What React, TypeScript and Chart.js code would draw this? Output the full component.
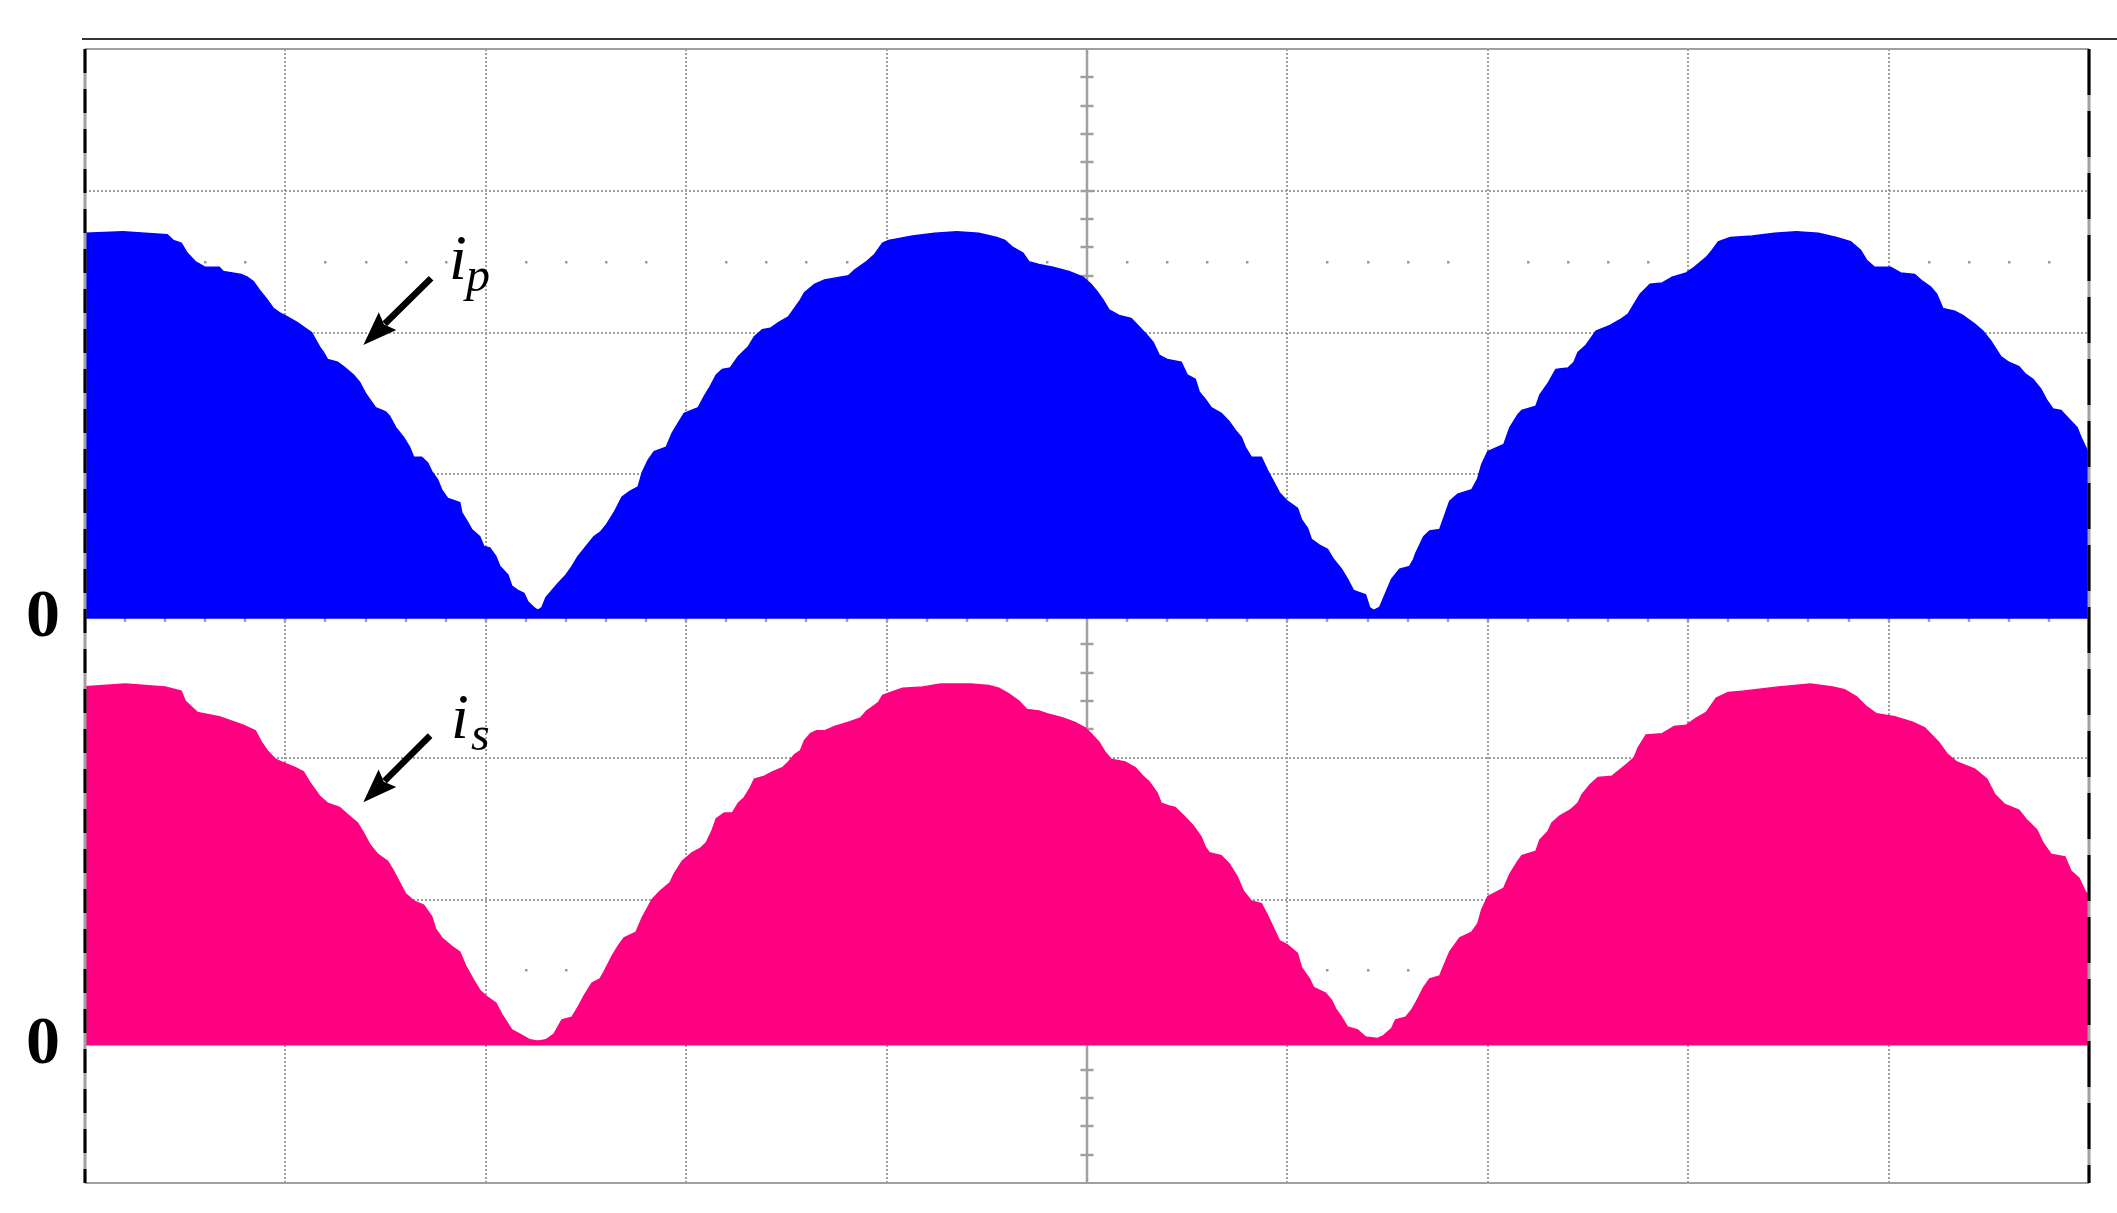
import React, { useEffect, useRef } from 'react';
import { Chart, registerables } from 'chart.js';

Chart.register(...registerables);

// ---- data (time and amplitude in oscilloscope divisions) ----
const ipTime = [
  0.00, 0.19, 0.30, 0.41, 0.44, 0.48, 0.51, 0.55, 0.60, 0.67, 0.69, 0.78, 0.81, 0.84, 0.87, 0.91, 0.94, 0.97,
  1.01, 1.06, 1.10, 1.13, 1.17, 1.19, 1.21, 1.26, 1.29, 1.34, 1.37, 1.40, 1.42, 1.45, 1.50, 1.52, 1.55, 1.59,
  1.62, 1.64, 1.68, 1.71, 1.73, 1.76, 1.78, 1.81, 1.87, 1.88, 1.91, 1.93, 1.97, 1.99, 2.02, 2.05, 2.07, 2.11,
  2.13, 2.16, 2.19, 2.21, 2.24, 2.26, 2.28, 2.30, 2.33, 2.36, 2.40, 2.43, 2.46, 2.50, 2.54, 2.57, 2.60, 2.64,
  2.68, 2.72, 2.76, 2.78, 2.81, 2.84, 2.90, 2.93, 2.96, 2.99, 3.06, 3.09, 3.12, 3.15, 3.18, 3.22, 3.26, 3.31,
  3.34, 3.38, 3.42, 3.46, 3.51, 3.54, 3.57, 3.59, 3.64, 3.69, 3.81, 3.84, 3.90, 3.94, 3.98, 4.01, 4.13, 4.24,
  4.35, 4.46, 4.55, 4.59, 4.63, 4.68, 4.71, 4.76, 4.83, 4.91, 4.98, 5.02, 5.05, 5.08, 5.11, 5.16, 5.22, 5.26,
  5.30, 5.33, 5.36, 5.40, 5.47, 5.50, 5.54, 5.56, 5.59, 5.62, 5.67, 5.71, 5.74, 5.77, 5.79, 5.82, 5.87, 5.90,
  5.93, 5.96, 6.00, 6.05, 6.07, 6.10, 6.12, 6.16, 6.20, 6.23, 6.27, 6.30, 6.33, 6.39, 6.41, 6.43, 6.46, 6.49,
  6.52, 6.56, 6.61, 6.63, 6.64, 6.68, 6.71, 6.76, 6.78, 6.81, 6.85, 6.92, 6.95, 6.97, 7.00, 7.08, 7.11, 7.15,
  7.17, 7.24, 7.26, 7.30, 7.32, 7.34, 7.40, 7.43, 7.45, 7.49, 7.52, 7.54, 7.61, 7.66, 7.70, 7.73, 7.76, 7.81,
  7.87, 7.92, 7.99, 8.03, 8.09, 8.12, 8.15, 8.21, 8.32, 8.43, 8.54, 8.65, 8.74, 8.81, 8.86, 8.89, 8.93, 9.01,
  9.06, 9.13, 9.17, 9.21, 9.24, 9.27, 9.33, 9.37, 9.43, 9.47, 9.51, 9.56, 9.60, 9.65, 9.68, 9.72, 9.76, 9.79,
  9.82, 9.86, 9.90, 9.94, 9.96, 9.99, 10.00,
];
const ipValue = [
  2.72, 2.73, 2.72, 2.71, 2.67, 2.65, 2.58, 2.52, 2.48, 2.48, 2.45, 2.43, 2.41, 2.38, 2.32, 2.25, 2.19, 2.16,
  2.13, 2.09, 2.05, 2.02, 1.92, 1.88, 1.83, 1.81, 1.78, 1.72, 1.67, 1.59, 1.55, 1.49, 1.46, 1.43, 1.35, 1.28,
  1.21, 1.14, 1.14, 1.10, 1.04, 0.98, 0.91, 0.85, 0.82, 0.75, 0.68, 0.63, 0.58, 0.51, 0.50, 0.44, 0.37, 0.31,
  0.23, 0.20, 0.18, 0.12, 0.08, 0.06, 0.08, 0.15, 0.20, 0.25, 0.31, 0.37, 0.44, 0.51, 0.58, 0.61, 0.66, 0.75,
  0.86, 0.90, 0.93, 1.03, 1.12, 1.18, 1.21, 1.31, 1.38, 1.45, 1.49, 1.57, 1.64, 1.72, 1.76, 1.77, 1.85, 1.92,
  1.99, 2.04, 2.05, 2.09, 2.13, 2.19, 2.25, 2.30, 2.36, 2.39, 2.42, 2.46, 2.52, 2.57, 2.65, 2.67, 2.70, 2.72,
  2.73, 2.72, 2.69, 2.67, 2.62, 2.58, 2.52, 2.50, 2.48, 2.45, 2.41, 2.36, 2.31, 2.25, 2.18, 2.14, 2.12, 2.06,
  2.00, 1.95, 1.86, 1.83, 1.81, 1.72, 1.69, 1.60, 1.55, 1.49, 1.45, 1.39, 1.33, 1.28, 1.21, 1.14, 1.14, 1.05,
  0.97, 0.89, 0.83, 0.78, 0.70, 0.64, 0.56, 0.52, 0.49, 0.42, 0.35, 0.28, 0.20, 0.17, 0.08, 0.06, 0.08, 0.18,
  0.28, 0.35, 0.37, 0.42, 0.46, 0.58, 0.62, 0.63, 0.71, 0.83, 0.88, 0.91, 0.99, 1.09, 1.18, 1.23, 1.35, 1.44,
  1.47, 1.50, 1.58, 1.66, 1.71, 1.76, 1.77, 1.81, 1.88, 1.93, 1.99, 2.03, 2.07, 2.11, 2.15, 2.22, 2.29, 2.36,
  2.37, 2.41, 2.44, 2.48, 2.55, 2.60, 2.66, 2.69, 2.70, 2.72, 2.73, 2.72, 2.69, 2.66, 2.60, 2.53, 2.48, 2.48,
  2.44, 2.43, 2.38, 2.34, 2.29, 2.19, 2.17, 2.14, 2.08, 2.03, 1.96, 1.85, 1.81, 1.78, 1.73, 1.69, 1.62, 1.54,
  1.48, 1.47, 1.41, 1.35, 1.28, 1.19, 1.17,
];
const isTime = [
  0.00, 0.20, 0.40, 0.48, 0.50, 0.56, 0.67, 0.73, 0.79, 0.85, 0.88, 0.91, 0.95, 0.98, 1.05, 1.09, 1.12, 1.17,
  1.21, 1.27, 1.31, 1.36, 1.39, 1.42, 1.46, 1.51, 1.54, 1.57, 1.60, 1.64, 1.69, 1.73, 1.75, 1.78, 1.83, 1.87,
  1.90, 1.94, 1.97, 2.00, 2.05, 2.08, 2.13, 2.17, 2.22, 2.26, 2.30, 2.34, 2.38, 2.43, 2.46, 2.49, 2.53, 2.57,
  2.59, 2.63, 2.66, 2.69, 2.75, 2.78, 2.83, 2.87, 2.92, 2.94, 2.98, 3.03, 3.07, 3.10, 3.13, 3.15, 3.19, 3.23,
  3.26, 3.29, 3.32, 3.34, 3.39, 3.43, 3.48, 3.51, 3.54, 3.57, 3.59, 3.62, 3.65, 3.69, 3.74, 3.81, 3.87, 3.90,
  3.94, 3.96, 3.98, 4.02, 4.08, 4.18, 4.27, 4.35, 4.42, 4.51, 4.56, 4.61, 4.66, 4.70, 4.76, 4.80, 4.88, 4.94,
  4.99, 5.02, 5.06, 5.09, 5.12, 5.19, 5.24, 5.28, 5.31, 5.35, 5.37, 5.41, 5.44, 5.49, 5.53, 5.57, 5.59, 5.61,
  5.67, 5.71, 5.75, 5.78, 5.82, 5.87, 5.90, 5.93, 5.96, 6.00, 6.05, 6.07, 6.11, 6.13, 6.19, 6.22, 6.24, 6.27,
  6.30, 6.35, 6.39, 6.45, 6.48, 6.52, 6.54, 6.59, 6.62, 6.64, 6.68, 6.71, 6.76, 6.78, 6.81, 6.86, 6.92, 6.95,
  6.97, 7.00, 7.08, 7.11, 7.15, 7.17, 7.24, 7.26, 7.30, 7.32, 7.36, 7.41, 7.45, 7.47, 7.51, 7.55, 7.62, 7.69,
  7.73, 7.75, 7.79, 7.87, 7.93, 7.99, 8.04, 8.09, 8.14, 8.20, 8.27, 8.45, 8.61, 8.72, 8.78, 8.84, 8.89, 8.94,
  9.03, 9.12, 9.18, 9.25, 9.29, 9.34, 9.43, 9.49, 9.53, 9.58, 9.65, 9.69, 9.74, 9.77, 9.81, 9.88, 9.91, 9.95,
  9.98, 10.00,
];
const isValue = [
  2.53, 2.55, 2.53, 2.50, 2.43, 2.35, 2.32, 2.29, 2.26, 2.22, 2.14, 2.08, 2.02, 2.00, 1.96, 1.93, 1.86, 1.76,
  1.71, 1.68, 1.63, 1.57, 1.50, 1.42, 1.35, 1.30, 1.23, 1.15, 1.07, 1.02, 0.99, 0.91, 0.82, 0.76, 0.70, 0.66,
  0.56, 0.46, 0.39, 0.35, 0.30, 0.22, 0.11, 0.08, 0.04, 0.03, 0.04, 0.08, 0.18, 0.20, 0.27, 0.35, 0.44, 0.47,
  0.52, 0.63, 0.70, 0.76, 0.80, 0.90, 1.03, 1.09, 1.15, 1.21, 1.30, 1.36, 1.39, 1.43, 1.52, 1.60, 1.64, 1.64,
  1.71, 1.75, 1.82, 1.88, 1.90, 1.93, 1.96, 2.00, 2.05, 2.08, 2.15, 2.20, 2.22, 2.22, 2.25, 2.28, 2.31, 2.36,
  2.40, 2.42, 2.47, 2.49, 2.52, 2.53, 2.55, 2.55, 2.55, 2.54, 2.52, 2.48, 2.43, 2.37, 2.36, 2.34, 2.31, 2.28,
  2.24, 2.20, 2.14, 2.07, 2.02, 2.00, 1.96, 1.90, 1.86, 1.78, 1.71, 1.69, 1.68, 1.61, 1.55, 1.47, 1.40, 1.36,
  1.34, 1.28, 1.19, 1.09, 1.02, 1.00, 0.92, 0.83, 0.74, 0.71, 0.65, 0.55, 0.47, 0.41, 0.37, 0.32, 0.26, 0.20,
  0.13, 0.11, 0.06, 0.05, 0.07, 0.12, 0.18, 0.20, 0.25, 0.30, 0.41, 0.47, 0.49, 0.56, 0.66, 0.76, 0.80, 0.86,
  0.96, 1.05, 1.11, 1.21, 1.30, 1.34, 1.37, 1.45, 1.51, 1.57, 1.62, 1.66, 1.71, 1.77, 1.84, 1.89, 1.90, 1.98,
  2.03, 2.10, 2.19, 2.20, 2.25, 2.26, 2.31, 2.35, 2.45, 2.49, 2.50, 2.53, 2.55, 2.53, 2.51, 2.46, 2.39, 2.34,
  2.32, 2.28, 2.24, 2.14, 2.06, 2.00, 1.95, 1.88, 1.77, 1.70, 1.66, 1.59, 1.52, 1.43, 1.35, 1.33, 1.23, 1.18,
  1.09, 1.05,
];

// screen: 10 x 8 divisions; zero markers of each channel (in divisions from the bottom)
const X_DIVS = 10;
const Y_DIVS = 8;
const IP_ZERO = 3.98;
const IS_ZERO = 0.97;
const zeroTickValues = [IS_ZERO, IP_ZERO];
const zeroTickLabels = ['0', '0'];
const seriesNames = ['i_p', 'i_s'];

const GRID_COLOR = '#a0a0a0';
const IP_COLOR = '#0000ff';
const IS_COLOR = '#ff0080';
const SERIF = '"Liberation Serif", "Times New Roman", serif';

const annotations = [
  { main: 'i', sub: 'p', at: [1.816, 6.378], subAt: [1.901, 6.293], from: [1.727, 6.383], to: [1.389, 5.912] },
  { main: 'i', sub: 's', at: [1.826, 3.139], subAt: [1.926, 3.055], from: [1.722, 3.156], to: [1.389, 2.686] },
];

const toPoints = (ts: number[], vs: number[], zero: number) =>
  ts.map((t, i) => ({ x: t, y: zero + vs[i] }));

const scopePlugin = {
  id: 'scopeGraticule',
  beforeDatasetsDraw(chart: any) {
    const { ctx, chartArea: a, scales } = chart;
    const xs = scales.x;
    const ys = scales.y;
    ctx.save();
    ctx.strokeStyle = GRID_COLOR;
    ctx.lineWidth = 2;
    ctx.beginPath();
    ctx.moveTo(a.left, a.top);
    ctx.lineTo(a.right, a.top);
    ctx.moveTo(a.left, a.bottom);
    ctx.lineTo(a.right, a.bottom);
    ctx.stroke();

    const cx = Math.round(xs.getPixelForValue(X_DIVS / 2));
    ctx.lineWidth = 2.5;
    ctx.beginPath();
    ctx.moveTo(cx, a.top);
    ctx.lineTo(cx, a.bottom);
    for (let k = 1; k < Y_DIVS * 5; k++) {
      const py = Math.round(ys.getPixelForValue(k / 5));
      ctx.moveTo(cx - 6.5, py);
      ctx.lineTo(cx + 6.5, py);
    }
    const cy = Math.round(ys.getPixelForValue(Y_DIVS / 2));
    for (let k = 1; k < X_DIVS * 5; k++) {
      const px = Math.round(xs.getPixelForValue(k / 5));
      ctx.moveTo(px, cy - 6);
      ctx.lineTo(px, cy + 6);
    }
    ctx.stroke();

    ctx.fillStyle = '#999999';
    for (const rv of [Y_DIVS - 1.5, 1.5]) {
      const py = Math.round(ys.getPixelForValue(rv));
      for (let k = 1; k < X_DIVS * 5; k++) {
        if (k % 5 === 0) continue;
        const px = Math.round(xs.getPixelForValue(k / 5));
        ctx.fillRect(px - 1, py - 1, 2.5, 2.5);
      }
    }
    ctx.restore();
  },
  afterDatasetsDraw(chart: any) {
    const { ctx, chartArea: a, scales } = chart;
    const xs = scales.x;
    const ys = scales.y;
    ctx.save();
    // side frame: grey with black dashes
    ctx.lineWidth = 3;
    ctx.strokeStyle = GRID_COLOR;
    ctx.beginPath();
    ctx.moveTo(a.left, a.top);
    ctx.lineTo(a.left, a.bottom);
    ctx.moveTo(a.right, a.top);
    ctx.lineTo(a.right, a.bottom);
    ctx.stroke();
    ctx.strokeStyle = '#000';
    ctx.setLineDash([24, 16]);
    ctx.beginPath();
    ctx.moveTo(a.left, a.top);
    ctx.lineTo(a.left, a.bottom);
    ctx.stroke();
    ctx.setLineDash([46, 16]);
    ctx.beginPath();
    ctx.moveTo(a.right, a.top);
    ctx.lineTo(a.right, a.bottom);
    ctx.stroke();
    ctx.setLineDash([]);

    // header rule above the screen
    ctx.strokeStyle = '#353535';
    ctx.lineWidth = 2;
    ctx.beginPath();
    ctx.moveTo(a.left - 3, a.top - 10);
    ctx.lineTo(chart.width, a.top - 10);
    ctx.stroke();

    // labels with arrows
    for (const an of annotations) {
      const fx = xs.getPixelForValue(an.from[0]);
      const fy = ys.getPixelForValue(an.from[1]);
      const tx = xs.getPixelForValue(an.to[0]);
      const ty = ys.getPixelForValue(an.to[1]);
      const ang = Math.atan2(ty - fy, tx - fx);
      const headLen = 34;
      const headHalf = 12.5;
      const bx = tx - headLen * Math.cos(ang);
      const by = ty - headLen * Math.sin(ang);
      ctx.strokeStyle = '#000';
      ctx.lineWidth = 6.5;
      ctx.lineCap = 'butt';
      ctx.beginPath();
      ctx.moveTo(fx, fy);
      ctx.lineTo(bx + 4 * Math.cos(ang), by + 4 * Math.sin(ang));
      ctx.stroke();
      ctx.fillStyle = '#000';
      ctx.beginPath();
      ctx.moveTo(tx, ty);
      ctx.lineTo(bx + headHalf * Math.sin(ang), by - headHalf * Math.cos(ang));
      ctx.lineTo(bx + 5 * Math.cos(ang), by + 5 * Math.sin(ang));
      ctx.lineTo(bx - headHalf * Math.sin(ang), by + headHalf * Math.cos(ang));
      ctx.closePath();
      ctx.fill();

      ctx.textAlign = 'left';
      ctx.textBaseline = 'alphabetic';
      ctx.font = `italic 64px ${SERIF}`;
      ctx.fillText(an.main, xs.getPixelForValue(an.at[0]), ys.getPixelForValue(an.at[1]));
      ctx.font = `italic 48px ${SERIF}`;
      ctx.fillText(an.sub, xs.getPixelForValue(an.subAt[0]), ys.getPixelForValue(an.subAt[1]));
    }
    ctx.restore();
  },
};

export default function App() {
  const canvasRef = useRef<HTMLCanvasElement | null>(null);

  useEffect(() => {
    document.body.style.overflow = 'hidden';
    const canvas = canvasRef.current;
    if (!canvas) return;
    const chart = new Chart(canvas, {
      type: 'line',
      data: {
        datasets: [
          {
            label: seriesNames[0],
            data: toPoints(ipTime, ipValue, IP_ZERO),
            borderColor: IP_COLOR,
            backgroundColor: IP_COLOR,
            borderWidth: 1.5,
            pointRadius: 0,
            tension: 0,
            fill: { value: IP_ZERO },
          },
          {
            label: seriesNames[1],
            data: toPoints(isTime, isValue, IS_ZERO),
            borderColor: IS_COLOR,
            backgroundColor: IS_COLOR,
            borderWidth: 1.5,
            pointRadius: 0,
            tension: 0,
            fill: { value: IS_ZERO },
          },
        ],
      },
      options: {
        animation: false,
        responsive: false,
        maintainAspectRatio: false,
        devicePixelRatio: 1,
        layout: { padding: { left: 0, top: 49, right: 28, bottom: 30 } },
        plugins: { legend: { display: false }, tooltip: { enabled: false } },
        scales: {
          x: {
            type: 'linear',
            min: 0,
            max: X_DIVS,
            ticks: { display: false, stepSize: 1 },
            grid: { color: GRID_COLOR, lineWidth: 2, drawTicks: false },
            border: { display: false, dash: [2, 2] },
            afterFit: (s: any) => {
              s.height = 0;
            },
          },
          y: {
            type: 'linear',
            position: 'left',
            min: 0,
            max: Y_DIVS,
            ticks: { display: false, stepSize: 1 },
            grid: { color: GRID_COLOR, lineWidth: 2, drawTicks: false },
            border: { display: false, dash: [2, 2] },
            afterFit: (s: any) => {
              s.width = 0;
              s.paddingTop = 0;
              s.paddingBottom = 0;
            },
          },
          zeroAxis: {
            type: 'linear',
            position: 'left',
            min: 0,
            max: Y_DIVS,
            grid: { display: false, drawTicks: false },
            border: { display: false },
            afterBuildTicks: (s: any) => {
              s.ticks = zeroTickValues.map((v) => ({ value: v }));
            },
            ticks: {
              autoSkip: false,
              padding: 25,
              color: '#000',
              font: { family: SERIF, size: 68, weight: 'bold' },
              callback: (_v: any, i: number) => zeroTickLabels[i],
            },
            afterFit: (s: any) => {
              s.width = 85;
              s.paddingTop = 0;
              s.paddingBottom = 0;
            },
          },
        },
      } as any,
      plugins: [scopePlugin],
    });
    return () => chart.destroy();
  }, []);

  return (
    <div style={{ position: 'absolute', left: 0, top: 0, width: 2117, height: 1213, background: '#fff' }}>
      <canvas ref={canvasRef} width={2117} height={1213} style={{ width: 2117, height: 1213, display: 'block' }} />
    </div>
  );
}
